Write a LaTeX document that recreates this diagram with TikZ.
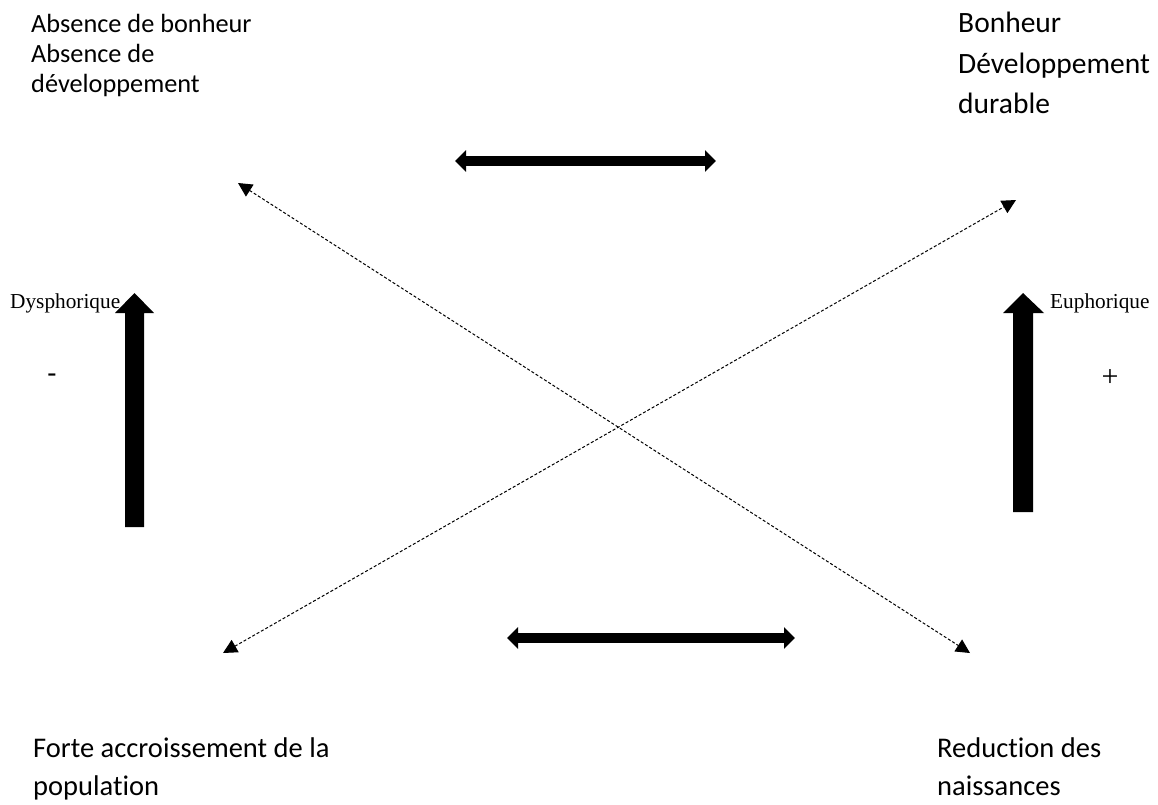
\documentclass[tikz,border=0pt]{standalone}
\usepackage{fontspec}
\setmainfont{Carlito}[Ligatures=NoCommon]
\newfontfamily\tnr{Liberation Serif}
\usetikzlibrary{arrows.meta}
\tikzset{
  lbl/.style={anchor=base west, inner sep=0pt, font=\fontsize{28.5}{34}\selectfont},
  lbltr/.style={anchor=base west, inner sep=0pt, font=\fontsize{29.5}{34}\selectfont},
  lblsmall/.style={anchor=base west, inner sep=0pt, font=\fontsize{26.3}{30}\selectfont},
  pole/.style={anchor=base west, inner sep=0pt, font=\tnr\fontsize{21.3}{24}\selectfont},
  dashlink/.style={line width=1pt, dash pattern=on 3pt off 2pt, {Triangle[length=14pt,width=14pt]}-{Triangle[length=14pt,width=14pt]}},
  dbl/.style={line width=10pt, {Triangle[length=11pt,width=21pt]}-{Triangle[length=11pt,width=21pt]}},
  bigarrow/.style={fill=black, draw=none}
}
\begin{document}
\begin{tikzpicture}[x=1pt,y=-1pt]
\useasboundingbox[fill=white] (0,0) rectangle (1158,804);
% texts
\node[lblsmall] (tl1) at (31,32) {Absence de bonheur};
\node[lblsmall] (tl2) at (31,62) {Absence de};
\node[lblsmall] (tl3) at (31,92) {développement};
\node[lbltr] (tr1) at (958,32) {Bonheur};
\node[lbltr] (tr2) at (958,73) {Développement};
\node[lbltr] (tr3) at (958,113) {durable};
\node[lbl] (bl1) at (33,757) {Forte accroissement de la};
\node[lbl] (bl2) at (33,795) {population};
\node[lbl] (br1) at (937,757) {Reduction des};
\node[lbl] (br2) at (937,795) {naissances};
\node[pole] (dys) at (10,308) {Dysphorique};
\node[pole] (eup) at (1050,308) {Euphorique};
\node[inner sep=0pt, font=\fontsize{30}{34}\selectfont] (minus) at (52,379) {-};
\node[inner sep=0pt, font=\tnr\fontsize{30}{34}\selectfont] (plus) at (1110,378) {+};
% horizontal double arrows
\coordinate (ha1) at (455,161);
\coordinate (hb1) at (716,161);
\coordinate (ha2) at (507,638);
\coordinate (hb2) at (795,638);
\draw[dbl] (ha1) -- (hb1);
\draw[dbl] (ha2) -- (hb2);
% vertical block arrows
\fill[bigarrow] (125,527) -- (125,313) -- (115,313) -- (134.5,293) -- (154,313) -- (144,313) -- (144,527) -- cycle;
\fill[bigarrow] (1013,512) -- (1013,313) -- (1003,313) -- (1023,293) -- (1044,313) -- (1033,313) -- (1033,512) -- cycle;
% dashed diagonals
\coordinate (d1a) at (238,183);
\coordinate (d1b) at (970,653);
\coordinate (d2a) at (223,653);
\coordinate (d2b) at (1016,200);
\draw[dashlink] (d1a) -- (d1b);
\draw[dashlink] (d2a) -- (d2b);
\end{tikzpicture}
\end{document}
